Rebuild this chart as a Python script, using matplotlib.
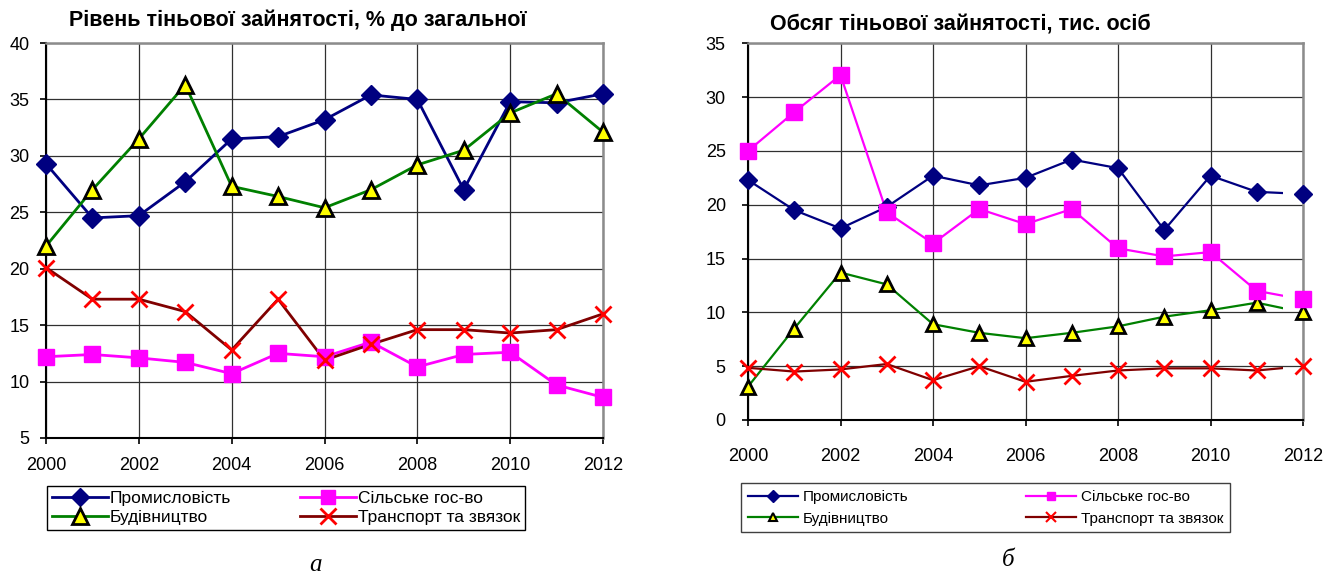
import matplotlib
matplotlib.use("Agg")
import matplotlib.pyplot as plt
from matplotlib.lines import Line2D
from matplotlib.patches import Rectangle

plt.rcParams['font.family'] = ['Liberation Sans', 'DejaVu Sans']

years = list(range(2000, 2013))
labels = ["Промисловість", "Будівництво", "Сільське гос-во", "Транспорт та звязок"]

# рівень, % до загальної
lvl_prom = [29.3, 24.5, 24.7, 27.7, 31.5, 31.7, 33.2, 35.4, 35.0, 27.0, 34.8, 34.7, 35.5]
lvl_bud = [22.0, 27.0, 31.5, 36.3, 27.3, 26.4, 25.4, 27.0, 29.2, 30.5, 33.8, 35.5, 32.1]
lvl_silg = [12.2, 12.4, 12.1, 11.7, 10.7, 12.5, 12.2, 13.5, 11.3, 12.4, 12.6, 9.7, 8.6]
lvl_trans = [20.1, 17.3, 17.3, 16.2, 12.8, 17.3, 11.9, 13.3, 14.6, 14.6, 14.3, 14.6, 16.0]

# обсяг, тис. осіб
vol_prom = [22.3, 19.5, 17.8, 19.8, 22.7, 21.8, 22.5, 24.2, 23.4, 17.65, 22.7, 21.2, 21.0]
vol_bud = [3.1, 8.5, 13.7, 12.6, 8.9, 8.1, 7.6, 8.1, 8.7, 9.6, 10.2, 10.9, 10.0]
vol_silg = [25.0, 28.6, 32.05, 19.3, 16.4, 19.6, 18.2, 19.6, 15.95, 15.2, 15.6, 12.0, 11.2]
vol_trans = [4.85, 4.5, 4.7, 5.2, 3.7, 5.0, 3.55, 4.1, 4.6, 4.8, 4.8, 4.6, 5.0]

# колір лінії, маркер, заливка, край
styles = [
    ("#000080", "D", "#000080", "#000080"),
    ("#008000", "^", "#FFFF00", "#000000"),
    ("#FF00FF", "s", "#FF00FF", "#FF00FF"),
    ("#800000", "x", "#FF0000", "#FF0000"),
]

fig = plt.figure(figsize=(13.26, 5.78), dpi=100)
W, H = 1326, 578


def setup(ax, ylim):
    ax.set_xlim(2000, 2012)
    ax.set_ylim(*ylim)
    ax.set_xticks(range(2000, 2013, 2))
    ax.set_yticks(range(ylim[0], ylim[1] + 1, 5))
    ax.grid(True, color="#303030", lw=0.9)
    ax.set_axisbelow(True)
    for s in ("left", "bottom"):
        ax.spines[s].set_color("#000000")
        ax.spines[s].set_linewidth(1.5)
    for s in ("top", "right"):
        ax.spines[s].set_color("#8c8c8c")
        ax.spines[s].set_linewidth(1.8)


# --- а ---
ax1 = fig.add_axes([46 / W, 1 - 438 / H, 557 / W, 395 / H])
setup(ax1, (5, 40))
ax1.tick_params(labelsize=13, length=4, pad=8, width=1.2)
ax1.tick_params(axis="x", pad=10)
sizes1 = [10, 12, 12, 12]
for data, st, ms in zip([lvl_prom, lvl_bud, lvl_silg, lvl_trans], styles, sizes1):
    c, m, fc, ec = st
    ax1.plot(years, data, color=c, lw=2, zorder=3)
    ax1.plot(years, data, ls="none", marker=m, ms=ms, mfc=fc, mec=ec,
             mew=2 if m in "^x" else 1, clip_on=False, zorder=4)
fig.text(298 / W, 1 - 20 / H, "Рівень тіньової зайнятості, % до загальної",
         ha="center", va="center", fontsize=15.5, fontweight="bold")

h1 = [Line2D([], [], color=st[0], lw=2, marker=st[1], ms=ms, mfc=st[2], mec=st[3],
             mew=2 if st[1] in "^x" else 1)
      for st, ms in zip(styles, [9, 11, 10, 11])]
fig.legend(h1, labels, ncol=2, loc="upper left",
           bbox_to_anchor=(47 / W, 1 - 486 / H - 0.05, 478 / W, 0.05), mode="expand",
           fontsize=12.5, frameon=True, fancybox=False, edgecolor="black",
           framealpha=1, handlelength=3.2, borderpad=0.3, labelspacing=0.2,
           handletextpad=0.1, borderaxespad=0, columnspacing=1)

fig.text(316 / W, 1 - 565 / H, "а", ha="center", va="center", fontsize=18,
         family="Liberation Serif", style="italic")

# --- б ---
ax2 = fig.add_axes([748 / W, 1 - 420 / H, 555 / W, 376.7 / H])
setup(ax2, (0, 35))
ax2.tick_params(labelsize=13, length=4, pad=12, width=1.2)
ax2.tick_params(axis="x", pad=16)
sizes2 = [9, 10, 11, 11]
for data, st, ms in zip([vol_prom, vol_bud, vol_silg, vol_trans], styles, sizes2):
    c, m, fc, ec = st
    ln, = ax2.plot(years, data, color=c, lw=1.6, zorder=3)
    # лінія в оригіналі обривається перед 2012
    clip = Rectangle((1999, -10), 12.57, 60, transform=ax2.transData)
    ln.set_clip_path(clip)
    ax2.plot(years, data, ls="none", marker=m, ms=ms, mfc=fc, mec=ec,
             mew=2 if m in "^x" else 1, clip_on=False, zorder=4)
fig.text(960 / W, 1 - 25 / H, "Обсяг тіньової зайнятості, тис. осіб",
         ha="center", va="center", fontsize=15.5, fontweight="bold")

h2 = [Line2D([], [], color=st[0], lw=1.6, marker=st[1], ms=ms, mfc=st[2], mec=st[3],
             mew=1.5 if st[1] in "^x" else 1)
      for st, ms in zip(styles, [6, 6, 6, 7])]
fig.legend(h2, labels, ncol=2, loc="upper left",
           bbox_to_anchor=(741 / W, 1 - 483 / H - 0.05, 489 / W, 0.05), mode="expand",
           fontsize=11, frameon=True, fancybox=False, edgecolor="#404040",
           framealpha=1, handlelength=3.3, borderpad=0.45, labelspacing=0.5,
           handletextpad=0.3, borderaxespad=0, columnspacing=1)

fig.text(1008 / W, 1 - 560 / H, "б", ha="center", va="center", fontsize=18,
         family="Liberation Serif", style="italic")

fig.savefig("out.png", dpi=100)
